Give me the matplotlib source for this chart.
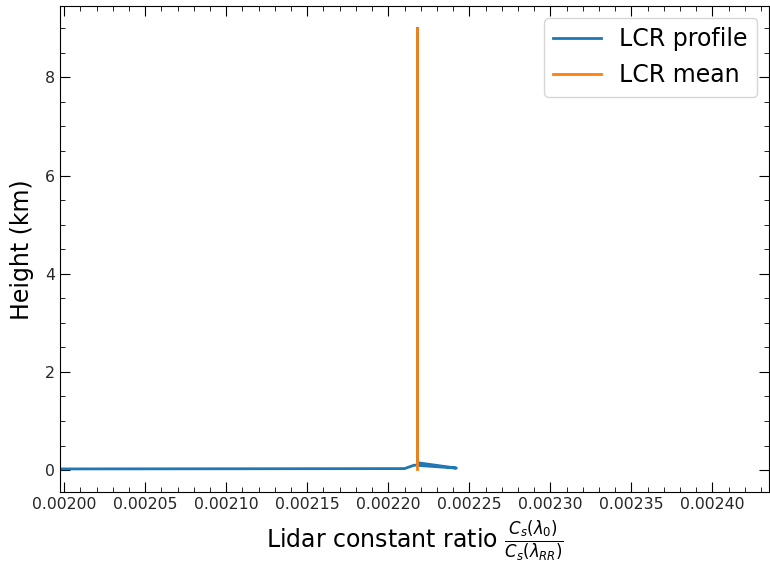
import matplotlib
matplotlib.use("Agg")
import matplotlib.pyplot as plt
from matplotlib.ticker import AutoMinorLocator

# LCR profile (height in km)
heights = [0.02, 0.03, 0.10, 0.04, 0.15, 1.0, 3.0, 5.0, 7.0, 9.0]
lcr_profile = [0.00190, 0.002210, 0.002216, 0.002242, 0.002218,
               0.002218, 0.002218, 0.002218, 0.002218, 0.002218]
lcr_mean = 0.002218

fig = plt.figure(figsize=(7.7, 5.67), dpi=100)
ax = fig.add_axes([0.078, 0.132, 0.921, 0.857])

ax.plot(lcr_profile, heights, color="tab:blue", lw=2.0, label="LCR profile")
ax.plot([lcr_mean, lcr_mean], [heights[0], heights[-1]], color="tab:orange",
        lw=2.0, label="LCR mean")

ax.set_xlim(0.0019975, 0.002435)
ax.set_ylim(-0.45, 9.45)
ax.set_xticks([0.00200, 0.00205, 0.00210, 0.00215, 0.00220,
               0.00225, 0.00230, 0.00235, 0.00240])
ax.set_xticklabels(["0.00200", "0.00205", "0.00210", "0.00215", "0.00220",
                    "0.00225", "0.00230", "0.00235", "0.00240"])
ax.set_yticks([0, 2, 4, 6, 8])
ax.xaxis.set_minor_locator(AutoMinorLocator())
ax.yaxis.set_minor_locator(AutoMinorLocator())
ax.tick_params(which="both", direction="in", top=True, right=True,
               labelsize=11.3, labelcolor="0.15")
ax.tick_params(which="major", length=7)
ax.tick_params(which="minor", length=3.5)

ax.set_xlabel(r"Lidar constant ratio $\frac{C_s(\lambda_0)}{C_s(\lambda_{RR})}$",
              fontsize=17, labelpad=5)
ax.set_ylabel("Height (km)", fontsize=17, labelpad=8)
ax.legend(loc="upper right", fontsize=17)

fig.savefig("out.png", dpi=100)
